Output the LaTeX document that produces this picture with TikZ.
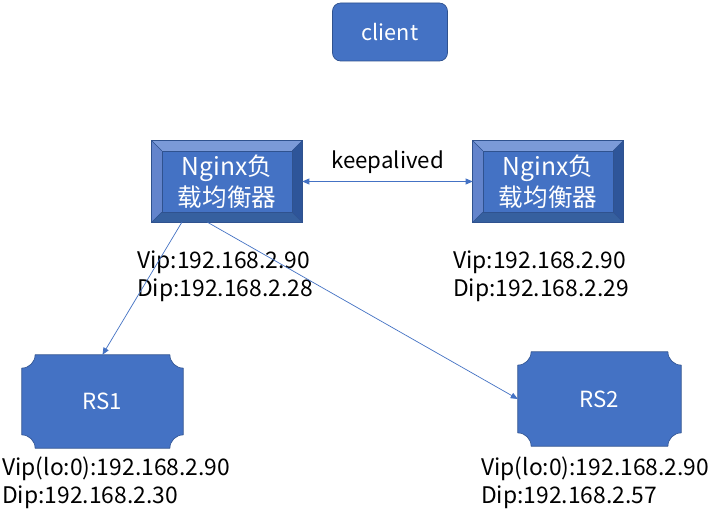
\documentclass[tikz,border=0pt]{standalone}
\usepackage{xcolor}
\usepackage{fontspec}
\setmainfont{Noto Sans CJK SC}
\usepackage{tikz}
\usetikzlibrary{calc,positioning,arrows.meta,backgrounds}
\definecolor{BoxFill}{HTML}{4472C4}
\definecolor{BoxEdge}{HTML}{2F528F}
\definecolor{BevelLight}{HTML}{7B9AD8}
\definecolor{BevelSide}{HTML}{6384CC}
\definecolor{BevelDark}{HTML}{2E5599}
\definecolor{BevelLow}{HTML}{36609F}
\newcommand{\bevd}{0.3cm}
\newcommand{\plaqr}{0.4cm}
% bevel faces round a named node
\newcommand{\bevelframe}[1]{%
    \fill[BevelLight] (#1.north west) -- (#1.north east) -- ([shift={(-\bevd,-\bevd)}]#1.north east) -- ([shift={(\bevd,-\bevd)}]#1.north west) -- cycle;
    \fill[BevelSide] (#1.north west) -- ([shift={(\bevd,-\bevd)}]#1.north west) -- ([shift={(\bevd,\bevd)}]#1.south west) -- (#1.south west) -- cycle;
    \fill[BevelDark] (#1.north east) -- (#1.south east) -- ([shift={(-\bevd,\bevd)}]#1.south east) -- ([shift={(-\bevd,-\bevd)}]#1.north east) -- cycle;
    \fill[BevelLow] (#1.south west) -- ([shift={(\bevd,\bevd)}]#1.south west) -- ([shift={(-\bevd,\bevd)}]#1.south east) -- (#1.south east) -- cycle;
    \draw[BoxEdge, line width=0.6pt] (#1.north west) rectangle (#1.south east);
    \draw[BoxEdge, line width=0.4pt] ([shift={(\bevd,-\bevd)}]#1.north west) rectangle ([shift={(-\bevd,\bevd)}]#1.south east);
    \draw[BoxEdge, line width=0.4pt] (#1.north west) -- ++(\bevd,-\bevd) (#1.north east) -- ++(-\bevd,-\bevd)
        (#1.south west) -- ++(\bevd,\bevd) (#1.south east) -- ++(-\bevd,\bevd);
}
% plaque outline with hollow corners
\newcommand{\plaquepath}[1]{%
    \filldraw[fill=BoxFill, draw=BoxEdge, line width=0.5pt]
        ([xshift=\plaqr]#1.north west) -- ([xshift=-\plaqr]#1.north east)
        arc[start angle=180, end angle=270, radius=\plaqr]
        -- ([yshift=\plaqr]#1.south east)
        arc[start angle=90, end angle=180, radius=\plaqr]
        -- ([xshift=\plaqr]#1.south west)
        arc[start angle=0, end angle=90, radius=\plaqr]
        -- ([yshift=-\plaqr]#1.north west)
        arc[start angle=270, end angle=360, radius=\plaqr] -- cycle;
}
\tikzset{
    clientbox/.style={fill=BoxFill, draw=BoxEdge, line width=0.6pt, rounded corners=7pt,
        minimum width=3.45cm, minimum height=1.74cm, text=white, font=\fontsize{18.5}{22}\selectfont},
    nginxbox/.style={fill=BoxFill, minimum width=4.5cm, minimum height=2.43cm, inner sep=0pt,
        text=white, align=center, font=\fontsize{21}{26}\selectfont},
    rsbox/.style={minimum width=4.83cm, minimum height=2.79cm, text=white,
        font=\fontsize{19}{22}\selectfont},
    iplabel/.style={anchor=west, align=left, inner sep=0pt, font=\fontsize{19.5}{24}\selectfont},
    link/.style={draw=BoxFill, line width=0.6pt, -{Triangle[length=6pt,width=5pt]}}
}
\begin{document}
\begin{tikzpicture}
    \useasboundingbox (0,0) rectangle (21.27,15.93);

    \node[clientbox] (client) at (11.7,14.97) {client};

    \node[nginxbox] (nginxl) at (6.81,10.485) {Nginx负\\载均衡器};
    \bevelframe{nginxl}
    \node[nginxbox] (nginxr) at (16.44,10.485) {Nginx负\\载均衡器};
    \bevelframe{nginxr}

    \node[rsbox] (rs1) at (3.075,3.885) {RS1};
    \node[rsbox, minimum width=4.89cm, minimum height=2.82cm] (rs2) at (17.985,3.96) {RS2};
    \begin{scope}[on background layer]
        \fill[white] (0,0) rectangle (21.27,15.93);
        \plaquepath{rs1}
        \plaquepath{rs2}
    \end{scope}

    \node[iplabel] (ipl) at (4.11,7.65) {Vip:192.168.2.90\\Dip:192.168.2.28};
    \node[iplabel] (ipr) at (13.59,7.65) {Vip:192.168.2.90\\Dip:192.168.2.29};
    \node[iplabel] (ip1) at (0.06,1.44) {Vip(lo:0):192.168.2.90\\Dip:192.168.2.30};
    \node[iplabel] (ip2) at (14.43,1.44) {Vip(lo:0):192.168.2.90\\Dip:192.168.2.57};

    \draw[link, {Triangle[length=6pt,width=5pt]}-{Triangle[length=6pt,width=5pt]}] (nginxl.east) -- node[above=0.1cm, text=black, font=\fontsize{19}{22}\selectfont] (keep) {keepalived} (nginxr.west);
    \draw[link] ($(nginxl.south west)!0.2!(nginxl.south east)$) -- (rs1.north);
    \draw[link] ($(nginxl.south west)!0.37!(nginxl.south east)$) -- (rs2.west);
\end{tikzpicture}
\end{document}
